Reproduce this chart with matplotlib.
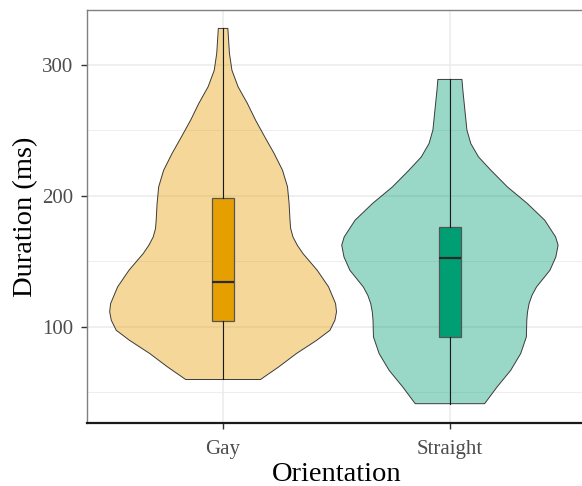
import numpy as np
import matplotlib
matplotlib.use('Agg')
import matplotlib.pyplot as plt
from matplotlib.ticker import MultipleLocator

plt.rcParams['font.family'] = ['Liberation Serif', 'DejaVu Serif']

groups = ['Gay', 'Straight']
fills = ['#E69F00', '#009E73']

# violin outlines: duration (ms) and half-width in x units
gay_y = [59.6, 69.2, 79.4, 89.6, 97.2, 104.9, 111.3, 117.6, 130.4, 143.1, 155.9,
         162.3, 168.6, 175.0, 181.4, 194.2, 206.9, 219.6, 232.4, 245.0, 257.9,
         270.7, 283.4, 296.0, 309.0, 328.0]
gay_w = [0.165, 0.245, 0.323, 0.413, 0.471, 0.493, 0.500, 0.496, 0.465, 0.415, 0.352,
         0.327, 0.308, 0.298, 0.295, 0.291, 0.284, 0.262, 0.225, 0.184, 0.143,
         0.107, 0.066, 0.039, 0.028, 0.021]
str_y = [41.1, 53.9, 66.6, 79.4, 92.1, 104.9, 111.0, 117.6, 124.0, 130.4, 143.1,
         153.3, 162.3, 168.6, 181.4, 194.2, 206.9, 219.7, 229.8, 240.0, 250.3,
         265.6, 280.9, 289.0]
str_w = [0.153, 0.208, 0.268, 0.312, 0.337, 0.339, 0.342, 0.349, 0.362, 0.382, 0.441,
         0.467, 0.477, 0.466, 0.418, 0.341, 0.253, 0.180, 0.126, 0.092, 0.075,
         0.066, 0.057, 0.053]

# box summaries: min, q1, median, q3, max
gay_box = [59.6, 104.0, 134.0, 198.5, 328.0]
str_box = [41.1, 92.0, 152.5, 176.5, 289.0]

fig = plt.figure(figsize=(5.82, 4.86), dpi=100)
ax = fig.add_axes([87/582, 62.7/486, 499/582, 412.8/486])

violins = [(gay_y, gay_w), (str_y, str_w)]
boxes = [gay_box, str_box]
for i in range(2):
    pos = i + 1
    y = np.array(violins[i][0])
    w = np.array(violins[i][1])
    ax.fill_betweenx(y, pos - w, pos + w, facecolor=fills[i], alpha=0.4,
                     edgecolor='none', zorder=2)
    ax.fill_betweenx(y, pos - w, pos + w, facecolor='none',
                     edgecolor='#3a3a3a', linewidth=0.7, zorder=3)
    b = boxes[i]
    stats = [dict(whislo=b[0], q1=b[1], med=b[2], q3=b[3], whishi=b[4], fliers=[])]
    ax.bxp(stats, positions=[pos], widths=0.1, patch_artist=True, showcaps=False,
           manage_ticks=False, zorder=4,
           boxprops=dict(facecolor=fills[i], edgecolor='#555555', linewidth=0.9),
           whiskerprops=dict(color='#1a1a1a', linewidth=0.8),
           medianprops=dict(color='#2a2a2a', linewidth=1.6))

ax.set_xlim(0.4, 2.6)
ax.set_ylim(26.1, 341.7)
ax.set_xticks([1, 2])
ax.set_xticklabels(groups)
ax.set_yticks([100, 200, 300])
ax.yaxis.set_minor_locator(MultipleLocator(50))
ax.tick_params(axis='y', which='minor', length=0)
ax.tick_params(axis='both', which='major', labelsize=15, labelcolor='#4D4D4D',
               color='#333333', length=4.5, width=1)
ax.tick_params(axis='x', which='major', pad=7.5)
ax.tick_params(axis='y', which='major', pad=5.5)

ax.set_axisbelow(True)
ax.grid(which='major', color='#EBEBEB', linewidth=1.1)
ax.grid(which='minor', axis='y', color='#EBEBEB', linewidth=0.6)

for s in ['top', 'left', 'right']:
    ax.spines[s].set_color('#808080')
    ax.spines[s].set_linewidth(1)
ax.spines['bottom'].set_color('#1a1a1a')
ax.spines['bottom'].set_linewidth(1.6)

ax.set_xlabel('Orientation', fontsize=20.5, labelpad=2)
ax.set_ylabel('Duration (ms)', fontsize=20.5, labelpad=3)

fig.savefig('out.png', dpi=100)
